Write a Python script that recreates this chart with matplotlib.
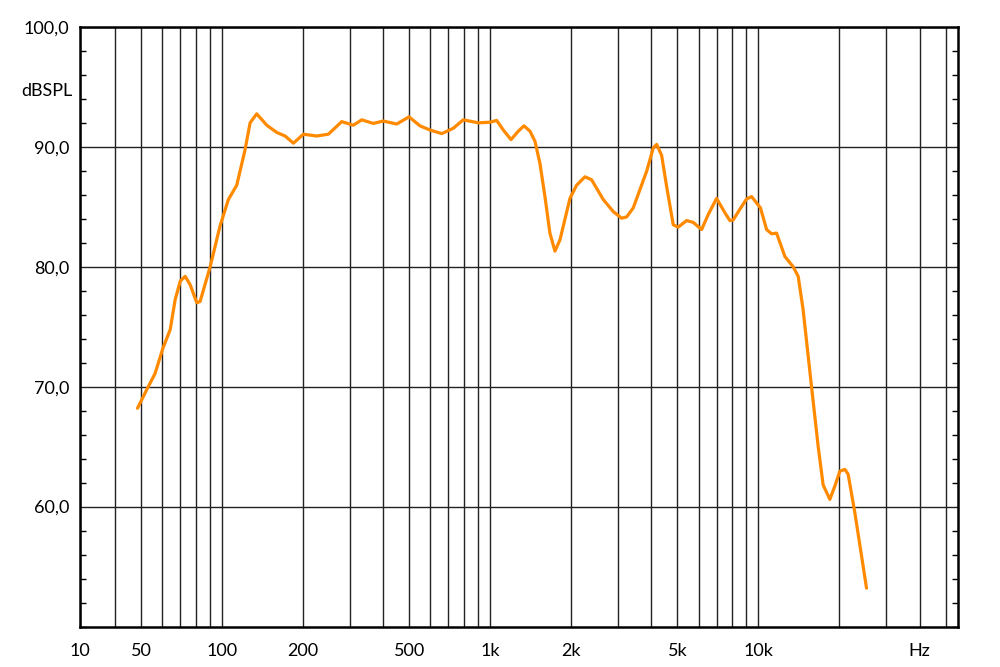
import matplotlib
matplotlib.use('Agg')
import matplotlib.pyplot as plt
from matplotlib import ticker

plt.rcParams['font.family'] = ['Lato', 'DejaVu Sans']

# frequency response
freq = [48.5, 52.5, 56.4, 60.3, 64.2, 67.0, 70.0, 73.0, 76.2, 80.7, 83.0, 90.5,
        98.5, 105.8, 113.7, 122.1, 127.5, 135.0, 147.1, 160.3, 172.2, 184.9,
        201.5, 226, 249.6, 280, 309.4, 332.5, 367, 400, 449, 499, 548, 597.5,
        661, 730, 795, 904, 1000, 1059, 1121, 1198, 1275, 1339, 1410, 1472,
        1536, 1603, 1673, 1747, 1824, 1987, 2104, 2260, 2393, 2645, 2881, 3096,
        3232, 3420, 3837, 4062, 4182, 4364, 4556, 4823, 5032, 5409, 5725, 6152,
        6512, 6997, 7514, 7844, 8069, 8550, 9054, 9450, 10200, 10750, 11216,
        11710, 12580, 13500, 14100, 14710, 15810, 16740, 17470, 18500, 19310,
        20160, 21050, 21650, 22930, 25350]
spl = [68.2, 69.75, 71.1, 73.2, 74.75, 77.25, 78.8, 79.2, 78.5, 77.0, 77.1, 80.0,
       83.4, 85.6, 86.8, 89.75, 92.0, 92.75, 91.8, 91.2, 90.9, 90.3,
       91.05, 90.9, 91.05, 92.1, 91.8, 92.25, 91.95, 92.15, 91.9, 92.5, 91.75, 91.4,
       91.1, 91.55, 92.25, 92.0, 92.05, 92.2, 91.4, 90.6, 91.3, 91.75, 91.3, 90.45,
       88.6, 85.85, 82.8, 81.3, 82.25, 85.7, 86.8, 87.5, 87.25, 85.6, 84.6, 84.05,
       84.15, 84.9, 87.95, 89.9, 90.2, 89.3, 86.7, 83.5, 83.3, 83.85, 83.7, 83.1,
       84.35, 85.7, 84.5, 83.85, 83.9, 84.8, 85.65, 85.85, 84.9, 83.1, 82.75,
       82.8, 80.85, 80.0, 79.2, 76.4, 70.0, 65.0, 61.8, 60.6, 61.7,
       62.95, 63.1, 62.7, 59.5, 53.2]

x_major = [29.6, 50, 100, 200, 500, 1000, 2000, 5000, 10000, 40000]
x_labels = ['10', '50', '100', '200', '500', '1k', '2k', '5k', '10k', 'Hz']
x_minor = [40, 60, 70, 80, 90, 300, 400, 600, 700, 800, 900,
           3000, 4000, 6000, 7000, 8000, 9000, 20000, 30000, 50000]
y_major = [60, 70, 80, 90, 100]
y_labels = ['60,0', '70,0', '80,0', '90,0', '100,0']

fig = plt.figure(figsize=(10, 6.67), dpi=100)
ax = fig.add_axes([0.08, 0.0607, 0.878, 0.899])

ax.semilogx(freq, spl, color='#ff8a00', lw=2.3, zorder=3,
            solid_joinstyle='round', solid_capstyle='round')

ax.set_xlim(29.6, 55600)
ax.set_ylim(50, 100)

ax.xaxis.set_major_locator(ticker.FixedLocator(x_major))
ax.xaxis.set_major_formatter(ticker.FixedFormatter(x_labels))
ax.xaxis.set_minor_locator(ticker.FixedLocator(x_minor))
ax.xaxis.set_minor_formatter(ticker.NullFormatter())
ax.set_yticks(y_major)
ax.set_yticklabels(y_labels)
ax.yaxis.set_minor_locator(ticker.MultipleLocator(2))

ax.grid(axis='x', which='both', color='#222222', lw=1.0)
ax.grid(axis='y', which='major', color='#222222', lw=1.0)

ax.tick_params(axis='x', which='both', length=0, pad=12, labelsize=13)
ax.tick_params(axis='y', which='major', length=0, pad=8, labelsize=13)
ax.tick_params(axis='y', which='minor', direction='in', length=4, width=1,
               left=True, right=True)

for s in ax.spines.values():
    s.set_linewidth(1.8)
    s.set_color('black')

ax.text(-0.008, 0.893, 'dBSPL', transform=ax.transAxes, ha='right',
        va='center', fontsize=13)

fig.savefig('out.png', dpi=100)
